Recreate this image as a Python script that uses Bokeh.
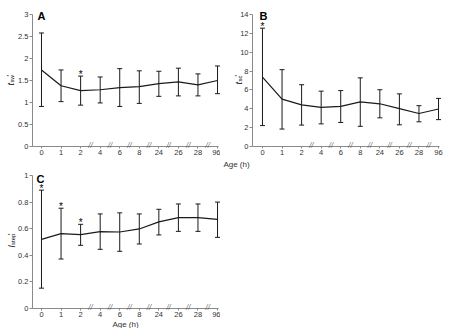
import math
from bokeh.plotting import figure
from bokeh.models import (ColumnDataSource, Whisker, TeeHead, Label, LabelSet,
                          Range1d, FixedTicker)
from bokeh.layouts import column, row
from bokeh.embed import file_html
from bokeh.resources import INLINE
from bokeh.core.properties import value

# Age groups (h), shown as evenly spaced categories
hours = ["0", "1", "2", "4", "6", "8", "24", "26", "28", "96"]

# Panel A: t_sw'
tsw_mean = [1.74, 1.38, 1.27, 1.29, 1.34, 1.36, 1.43, 1.47, 1.40, 1.50]
tsw_upper = [2.58, 1.74, 1.60, 1.58, 1.77, 1.72, 1.71, 1.78, 1.65, 1.83]
tsw_lower = [0.91, 1.02, 0.94, 0.99, 0.91, 0.98, 1.14, 1.15, 1.15, 1.20]
tsw_sig = ["2"]

# Panel B: t_sc'
tsc_mean = [7.35, 5.02, 4.42, 4.14, 4.25, 4.74, 4.53, 4.01, 3.50, 3.98]
tsc_upper = [12.55, 8.15, 6.55, 5.87, 5.93, 7.28, 6.02, 5.58, 4.33, 5.10]
tsc_lower = [2.22, 1.85, 2.27, 2.40, 2.55, 2.14, 3.04, 2.30, 2.62, 2.85]
tsc_sig = ["0"]

# Panel C: l_step'
lstep_mean = [0.52, 0.563, 0.555, 0.578, 0.575, 0.598, 0.651, 0.683, 0.683, 0.670]
lstep_upper = [0.89, 0.754, 0.633, 0.711, 0.719, 0.711, 0.746, 0.786, 0.786, 0.80]
lstep_lower = [0.153, 0.372, 0.475, 0.445, 0.43, 0.485, 0.553, 0.58, 0.58, 0.535]
lstep_sig = ["0", "1", "2"]

# Y tick values / labels
a_yticks = [0, 0.5, 1, 1.5, 2, 2.5, 3]
a_ylabels = ["0", "0.5", "1", "1.5", "2", "2.5", "3"]
b_yticks = [0, 2, 4, 6, 8, 10, 12, 14]
b_ylabels = ["0", "2", "4", "6", "8", "10", "12", "14"]
c_yticks = [0, 0.2, 0.4, 0.6, 0.8, 1]
c_ylabels = ["0", "0.2", "0.4", "0.6", "0.8", "1"]

FONT = "Liberation Sans"
AXIS_GREY = "#8a8a8a"
TEXT = "#333333"
INK = "#1a1a1a"
X_END = 9.05


def span(lo, hi, px_lo, px_hi, total):
    """Range covering the whole canvas, given where lo/hi should sit (px)."""
    s = (hi - lo) / (px_hi - px_lo)
    return Range1d(lo - px_lo * s, lo + (total - px_lo) * s)


def make_panel(width, height, box, x_start, y_end, yticks, ylabels,
               mean, upper, lower, sig):
    # box = (left, top, right, bottom) of the axes box in canvas pixels
    left, top, right, bottom = box
    p = figure(width=width, height=height, output_backend="svg",
               toolbar_location=None, title=None,
               x_range=span(x_start, X_END, left, right, width),
               y_range=span(0, y_end, height - bottom, height - top, height),
               min_border=0, min_border_left=0, min_border_right=0,
               min_border_top=0, min_border_bottom=0)
    p.outline_line_color = None
    p.grid.visible = False
    p.background_fill_color = "white"
    p.border_fill_color = "white"

    idx = list(range(len(hours)))
    p.xaxis.ticker = FixedTicker(ticks=idx)
    p.xaxis.major_label_overrides = {i: h for i, h in zip(idx, hours)}
    p.xaxis.fixed_location = 0
    p.xaxis.bounds = (x_start, X_END)
    p.yaxis.ticker = FixedTicker(ticks=yticks)
    p.yaxis.major_label_overrides = {t: l for t, l in zip(yticks, ylabels)}
    p.yaxis.fixed_location = x_start
    p.yaxis.bounds = (0, y_end)
    for ax in (p.xaxis, p.yaxis):
        ax.axis_line_color = AXIS_GREY
        ax.major_tick_line_color = AXIS_GREY
        ax.minor_tick_line_color = None
        ax.major_tick_in = 0
        ax.major_label_text_font = FONT
        ax.major_label_text_font_size = "7.5px"
        ax.major_label_text_color = TEXT
    p.xaxis.major_tick_out = 2
    p.xaxis.major_label_standoff = 1
    p.yaxis.major_tick_out = 3
    p.yaxis.major_label_standoff = 1

    src = ColumnDataSource(dict(x=idx, mean=mean, upper=upper, lower=lower))
    p.line("x", "mean", source=src, line_color=INK, line_width=1.2)
    head = dict(size=5, line_color=INK, line_width=1)
    p.add_layout(Whisker(source=src, base="x", upper="upper", lower="lower",
                         dimension="height", line_color=INK, line_width=1,
                         upper_head=TeeHead(**head), lower_head=TeeHead(**head)))

    # significance markers above the error bars
    si = [hours.index(s) for s in sig]
    star_src = ColumnDataSource(dict(x=si, y=[upper[i] for i in si],
                                     t=["*"] * len(si)))
    p.text("x", "y", text="t", source=star_src, text_align="center",
           text_baseline="alphabetic", y_offset=-2,
           text_font=value(FONT), text_font_size="10px", text_color="black")

    # axis breaks between the non-contiguous age groups
    nb = len(hours) - 3
    brk = ColumnDataSource(dict(x=[i + 0.5 for i in range(2, len(hours) - 1)],
                                y=[0] * nb, t=["//"] * nb))
    p.add_layout(LabelSet(x="x", y="y", text="t", source=brk,
                          text_align="center", text_baseline="middle",
                          y_offset=1, text_font=FONT, text_font_size="8px",
                          text_font_style="italic", text_color="#333333"))
    return p


# Label positions below are screen pixels from the bottom-left corner.
def corner_letter(p, letter, x, y):
    p.add_layout(Label(x=x, y=y, x_units="screen", y_units="screen",
                       text=letter, text_font=FONT, text_font_size="11px",
                       text_font_style="bold", text_color="black",
                       text_align="left", text_baseline="alphabetic"))


def rotated_label(p, parts, x, y):
    # parts: (text, font size, baseline shift, style, advance)
    for text, size, dx, style, adv in parts:
        p.add_layout(Label(x=x + dx, y=y, x_units="screen", y_units="screen",
                           text=text, angle=math.pi / 2, text_font=FONT,
                           text_font_size=f"{size}px", text_font_style=style,
                           text_color="black", text_align="left",
                           text_baseline="alphabetic"))
        y += adv


def plain_label(p, text, x, y):
    p.add_layout(Label(x=x, y=y, x_units="screen", y_units="screen",
                       text=text, text_font=FONT, text_font_size="8px",
                       text_color=TEXT, text_align="center",
                       text_baseline="middle"))


pa = make_panel(220, 170, (32, 14, 218, 146), -0.46, 3, a_yticks, a_ylabels,
                tsw_mean, tsw_upper, tsw_lower, tsw_sig)
pb = make_panel(233, 170, (32, 14, 219, 146), -0.51, 14, b_yticks, b_ylabels,
                tsc_mean, tsc_upper, tsc_lower, tsc_sig)
pc = make_panel(220, 158, (32, 5, 218, 138), -0.46, 1, c_yticks, c_ylabels,
                lstep_mean, lstep_upper, lstep_lower, lstep_sig)

corner_letter(pa, "A", 37, 155)
corner_letter(pb, "B", 39, 155)
corner_letter(pc, "C", 36, 150)

rotated_label(pa, [("t", 9, 0, "italic", 3),
                   ("sw", 6, 1.5, "normal", 6),
                   ("\u2032", 7, -1, "normal", 2)], 10, 85)
rotated_label(pb, [("t", 9, 0, "italic", 3),
                   ("sc", 6, 1.5, "normal", 5),
                   ("\u2032", 7, -1, "normal", 2)], 18, 86)
rotated_label(pc, [("l", 9, 0, "italic", 2.5),
                   ("step", 6, 1.5, "normal", 10),
                   ("\u2032", 7, -1, "normal", 2)], 11, 81)

plain_label(pb, "Age (h)", 16, 6)
plain_label(pc, "Age (h)", 125, 4)

layout = column(row(pa, pb), pc)
open("out.html", "w").write(file_html(layout, INLINE))
